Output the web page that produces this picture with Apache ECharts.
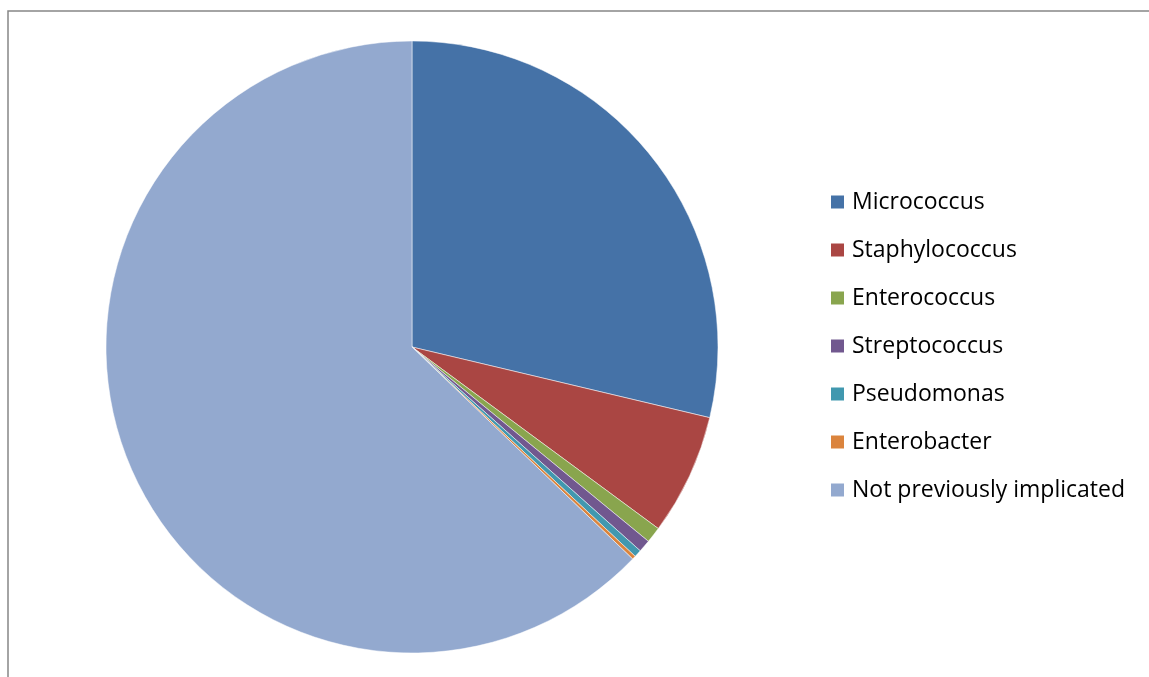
<!DOCTYPE html>
<html>
<head>
<meta charset="utf-8">
<script src="https://cdn.jsdelivr.net/npm/echarts@6/dist/echarts.min.js"></script>
<style>html,body{margin:0;padding:0;background:#fff;}#chart{width:1149px;height:677px;}</style>
</head>
<body>
<div id="chart"></div>
<script>
var categories = ['Micrococcus','Staphylococcus','Enterococcus','Streptococcus','Pseudomonas','Enterobacter','Not previously implicated'];
var values = [28.7, 6.4, 0.84, 0.65, 0.39, 0.19, 62.8];
var colors = ['#4572A7','#AA4643','#89A54E','#71588F','#4198AF','#DB843D','#93A9CF'];

var chart = echarts.init(document.getElementById('chart'));
chart.setOption({
  animation: false,
  color: colors,
  graphic: [{
    type: 'rect', silent: true,
    shape: {x: 8, y: 11, width: 1200, height: 700},
    style: {fill: 'none', stroke: '#868686', lineWidth: 1.5}
  }],
  legend: {
    orient: 'vertical',
    left: 824,
    top: 185,
    itemWidth: 15,
    itemHeight: 15,
    itemGap: 24,
    icon: 'rect',
    textStyle: {fontFamily: 'Open Sans', fontSize: 23, color: '#000', lineHeight: 24, padding: [0,0,0,2]},
    data: categories
  },
  series: [{
    type: 'pie',
    center: [412, 347],
    radius: 306,
    startAngle: 90,
    clockwise: true,
    label: {show: false},
    labelLine: {show: false},
    emphasis: {disabled: true},
    itemStyle: {borderColor: '#ffffff', borderWidth: 0.5},
    data: categories.map(function (c, i) { return {name: c, value: values[i]}; })
  }]
});
</script>
</body>
</html>
